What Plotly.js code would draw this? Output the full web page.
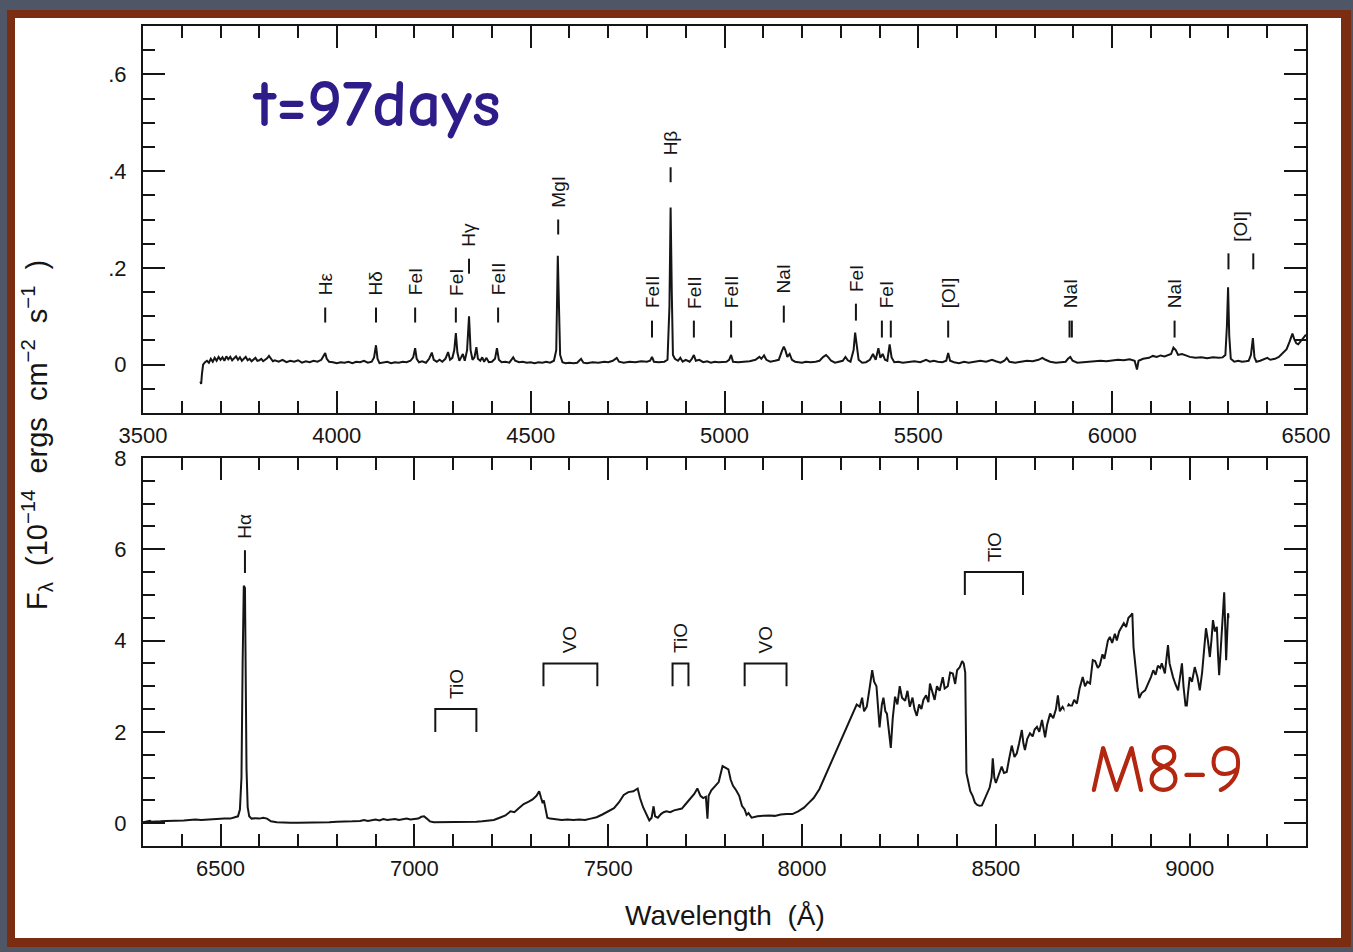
<!DOCTYPE html>
<html>
<head>
<meta charset="utf-8">
<script src="https://cdn.plot.ly/plotly-3.0.1.min.js"></script>
<style>
html,body{margin:0;padding:0;background:#4f5666;}
#chart{width:1353px;height:952px;}
</style>
</head>
<body>
<div id="chart"></div>
<script>
// ---------- DATA ----------
// Top panel spectrum (t = 97 days, blue part)
const topWave = [3648,3650,3652,3655,3660,3665,3670,3675,3680,3685,3690,3695,3700,3705,3710,3715,3720,3725,3730,3735,3740,3745,3750,3755,3760,3765,3770,3775,3780,3785,3790,3795,3800,3805,3810,3815,3820,3825,3830,3835,3840,3850,3860,3870,3880,3890,3900,3910,3920,3930,3940,3950,3960,3966,3970,3974,3980,3990,4000,4010,4020,4030,4040,4050,4060,4070,4080,4090,4096,4101,4105,4110,4120,4130,4140,4150,4160,4170,4180,4190,4197,4202,4206,4212,4220,4230,4238,4245,4250,4258,4265,4272,4280,4287,4292,4298,4303,4307,4311,4316,4320,4325,4330,4336,4341,4345,4350,4355,4360,4364,4370,4375,4380,4386,4392,4400,4408,4413,4418,4425,4435,4445,4455,4460,4470,4480,4490,4500,4510,4520,4530,4540,4550,4560,4566,4570,4573,4576,4582,4590,4600,4610,4620,4630,4636,4645,4660,4675,4690,4700,4712,4722,4728,4740,4755,4770,4785,4800,4808,4813,4818,4830,4845,4853,4858,4861,4864,4867,4872,4880,4886,4892,4900,4910,4916,4921,4926,4935,4945,4955,4965,4975,4985,4995,5005,5012,5017,5022,5035,5050,5065,5080,5090,5095,5102,5108,5118,5130,5140,5148,5153,5157,5162,5168,5174,5182,5190,5200,5210,5222,5235,5245,5255,5262,5268,5275,5285,5295,5305,5312,5318,5325,5333,5337,5341,5346,5355,5365,5375,5383,5390,5397,5402,5408,5414,5420,5426,5431,5438,5448,5460,5475,5490,5505,5520,5530,5540,5550,5562,5572,5577,5582,5592,5605,5618,5630,5645,5660,5675,5690,5700,5712,5722,5728,5735,5750,5765,5780,5795,5810,5820,5828,5840,5855,5868,5880,5886,5892,5898,5910,5925,5940,5955,5970,5985,6000,6015,6030,6045,6058,6064,6068,6080,6095,6105,6115,6125,6135,6145,6152,6158,6164,6170,6180,6190,6200,6215,6230,6245,6260,6275,6285,6292,6296,6299,6302,6306,6315,6325,6335,6345,6352,6358,6363,6367,6372,6382,6392,6400,6408,6420,6430,6440,6450,6458,6465,6470,6475,6480,6488,6496,6500];
const topFlux = [-0.035,-0.04,-0.02,0.0,0.005,0.008,0.004,0.012,0.006,0.014,0.008,0.016,0.01,0.015,0.008,0.017,0.011,0.016,0.009,0.014,0.017,0.01,0.015,0.008,0.013,0.016,0.009,0.012,0.007,0.011,0.014,0.008,0.009,0.012,0.007,0.01,0.013,0.018,0.011,0.007,0.009,0.006,0.01,0.005,0.008,0.006,0.009,0.004,0.007,0.005,0.008,0.006,0.01,0.018,0.024,0.012,0.006,0.005,0.003,0.005,0.004,0.006,0.003,0.006,0.005,0.008,0.004,0.006,0.015,0.04,0.012,0.003,0.004,0.006,0.003,0.005,0.004,0.006,0.005,0.008,0.015,0.034,0.012,0.005,0.007,0.004,0.012,0.025,0.01,0.006,0.01,0.006,0.012,0.026,0.01,0.014,0.03,0.065,0.025,0.008,0.014,0.022,0.008,0.03,0.1,0.03,0.01,0.015,0.036,0.012,0.008,0.015,0.006,0.014,0.005,0.006,0.012,0.034,0.01,0.005,0.006,0.004,0.015,0.008,0.005,0.006,0.004,0.005,0.003,0.005,0.004,0.006,0.004,0.008,0.03,0.225,0.12,0.02,0.005,0.003,0.004,0.003,0.004,0.012,0.004,0.003,0.005,0.004,0.006,0.005,0.008,0.014,0.006,0.004,0.006,0.005,0.007,0.006,0.008,0.016,0.006,0.005,0.006,0.01,0.12,0.325,0.15,0.02,0.012,0.008,0.014,0.006,0.01,0.006,0.012,0.02,0.008,0.01,0.005,0.007,0.004,0.006,0.005,0.006,0.006,0.01,0.02,0.006,0.005,0.006,0.007,0.01,0.016,0.012,0.019,0.01,0.006,0.008,0.01,0.028,0.037,0.03,0.016,0.022,0.01,0.006,0.005,0.004,0.006,0.005,0.006,0.008,0.016,0.02,0.015,0.008,0.004,0.006,0.008,0.016,0.009,0.006,0.03,0.066,0.04,0.01,0.004,0.005,0.01,0.022,0.01,0.034,0.014,0.022,0.01,0.008,0.042,0.015,0.005,0.006,0.004,0.006,0.007,0.005,0.01,0.006,0.008,0.006,0.005,0.008,0.024,0.008,0.005,0.003,0.006,0.004,0.006,0.008,0.006,0.01,0.007,0.004,0.008,0.014,0.006,0.004,0.006,0.008,0.007,0.01,0.014,0.01,0.006,0.004,0.005,0.006,0.012,0.016,0.008,0.004,0.005,0.006,0.006,0.008,0.007,0.008,0.01,0.009,0.011,0.008,-0.01,0.008,0.012,0.014,0.018,0.016,0.019,0.017,0.02,0.022,0.035,0.03,0.02,0.022,0.019,0.016,0.014,0.015,0.013,0.015,0.014,0.015,0.02,0.08,0.16,0.06,0.012,0.006,0.008,0.006,0.007,0.008,0.02,0.055,0.015,0.006,0.008,0.012,0.014,0.01,0.012,0.016,0.024,0.032,0.048,0.064,0.052,0.044,0.042,0.05,0.058,0.062];

// Bottom panel spectrum (red part)
const botWave = [6300,6310,6318,6322,6330,6345,6360,6375,6390,6405,6420,6435,6450,6465,6480,6495,6510,6525,6535,6545,6550,6554,6557,6560,6563,6565,6567,6570,6574,6580,6590,6600,6610,6620,6630,6645,6660,6680,6700,6720,6740,6760,6780,6800,6820,6840,6860,6870,6880,6890,6900,6910,6920,6930,6940,6950,6960,6970,6980,6990,7000,7010,7018,7025,7032,7040,7050,7060,7080,7100,7120,7140,7160,7175,7190,7205,7220,7235,7248,7258,7270,7282,7295,7305,7315,7322,7327,7331,7334,7338,7343,7350,7365,7380,7395,7410,7425,7440,7455,7470,7485,7500,7515,7528,7540,7552,7565,7576,7582,7590,7598,7606,7612,7617,7621,7628,7636,7643,7650,7660,7670,7680,7690,7700,7710,7722,7730,7738,7745,7752,7756,7759,7766,7775,7785,7795,7802,7810,7816,7822,7830,7838,7845,7852,7857,7862,7870,7885,7900,7915,7930,7945,7960,7975,7990,8005,8018,8030,8045,8058,8071,8084,8097,8110,8123,8134,8141,8149,8155,8160,8167,8175,8181,8186,8192,8200,8206,8210,8215,8219,8224,8229,8234,8240,8246,8252,8258,8266,8272,8278,8285,8290,8296,8302,8308,8313,8320,8326,8330,8336,8342,8348,8355,8363,8368,8376,8382,8389,8395,8400,8407,8413,8417,8421,8424,8428,8434,8440,8446,8452,8458,8464,8470,8477,8484,8489,8492,8496,8500,8507,8515,8521,8528,8534,8541,8548,8554,8560,8567,8571,8575,8581,8588,8595,8600,8606,8612,8619,8623,8627,8632,8640,8648,8655,8660,8665,8672,8680,8688,8695,8702,8709,8716,8724,8730,8736,8743,8750,8756,8763,8768,8775,8780,8789,8794,8800,8807,8812,8818,8824,8830,8836,8842,8848,8852,8855,8859,8862,8866,8870,8876,8885,8893,8900,8906,8912,8918,8924,8928,8932,8936,8940,8944,8948,8952,8957,8963,8970,8975,8980,8984,8988,8991,8995,9000,9006,9013,9020,9026,9032,9038,9042,9047,9052,9056,9060,9065,9070,9073,9076,9080,9083,9087,9089,9092,9094,9097,9099,9100];
const botFlux = [0.02,0.03,0.05,0.03,0.03,0.04,0.05,0.05,0.06,0.06,0.07,0.08,0.07,0.08,0.09,0.09,0.1,0.1,0.12,0.15,0.3,1.0,3.5,5.2,5.15,3.0,1.2,0.35,0.15,0.1,0.11,0.1,0.12,0.1,0.04,0.02,0.01,0.01,0.01,0.01,0.015,0.02,0.02,0.03,0.03,0.04,0.05,0.07,0.05,0.06,0.08,0.06,0.09,0.07,0.08,0.09,0.07,0.08,0.1,0.08,0.09,0.1,0.14,0.15,0.1,0.04,0.02,0.02,0.02,0.03,0.03,0.03,0.03,0.04,0.05,0.07,0.12,0.17,0.26,0.24,0.33,0.42,0.47,0.52,0.6,0.7,0.55,0.44,0.5,0.3,0.12,0.1,0.08,0.07,0.08,0.07,0.08,0.07,0.1,0.13,0.19,0.26,0.33,0.46,0.62,0.68,0.7,0.76,0.55,0.35,0.2,0.06,0.12,0.37,0.15,0.12,0.2,0.24,0.26,0.24,0.28,0.3,0.32,0.42,0.52,0.64,0.76,0.6,0.55,0.58,0.1,0.6,0.72,0.8,0.9,1.25,1.22,1.18,0.95,0.82,0.72,0.6,0.38,0.3,0.18,0.22,0.12,0.15,0.16,0.17,0.16,0.19,0.2,0.2,0.26,0.34,0.45,0.55,0.75,1.0,1.26,1.52,1.78,2.0,2.25,2.5,2.6,2.55,2.75,2.45,2.55,3.0,3.35,3.1,3.0,2.1,2.6,2.75,2.45,2.4,2.0,1.65,2.3,2.77,2.6,3.0,2.75,2.68,2.9,2.55,2.75,2.5,2.35,2.6,2.5,2.7,2.8,2.65,3.06,2.85,2.7,3.0,2.9,3.2,2.95,3.0,3.3,3.28,3.05,3.35,3.42,3.55,3.5,3.3,1.1,0.94,0.7,0.6,0.45,0.4,0.38,0.39,0.5,0.65,0.78,1.0,1.42,1.0,0.88,1.05,1.24,1.1,1.12,1.4,1.7,1.45,1.53,1.75,2.04,1.75,1.6,1.85,1.97,1.9,2.05,2.11,2.0,2.26,2.05,1.88,2.15,2.4,2.3,2.5,2.8,2.45,2.55,2.45,2.6,2.55,2.7,2.62,2.95,3.2,3.0,3.1,3.06,3.57,3.55,3.4,3.46,3.7,3.6,4.0,4.08,3.95,4.15,4.0,4.2,4.3,4.38,4.3,4.5,4.55,4.6,3.86,3.5,3.2,2.95,2.74,2.85,2.91,3.05,3.2,3.35,3.25,3.45,3.4,3.5,3.4,3.28,3.6,3.9,3.5,3.35,3.2,3.05,2.91,3.2,3.5,3.0,2.6,2.43,2.8,3.2,3.1,3.42,3.2,2.91,3.3,3.9,4.27,4.0,3.64,4.0,4.45,4.2,4.3,3.7,3.24,3.8,4.16,4.6,5.06,4.2,3.57,4.2,4.6,4.5];

// Top panel line identifications
const topLabelText = ['Hε','Hδ','FeI','FeI','Hγ','FeII','MgI','FeII','Hβ','FeII','FeII','NaI','FeI','FeI','[OI]','NaI','NaI','[OI]'];
const topLabelWave = [3970,4101,4202,4307,4341,4416,4571,4813,4861,4921,5017,5153,5339,5417,5577,5893,6161,6332];
const topLabelBase = [0.118,0.118,0.118,0.118,0.219,0.118,0.300,0.091,0.408,0.091,0.091,0.122,0.126,0.091,0.091,0.091,0.091,0.230];
const topDashWave = [3970,4101,4202,4307,4341,4416,4571,4813,4861,4921,5017,5153,5339,5406,5429,5577,5890,5896,6161,6300,6364];
const topDashLo   = [0.087,0.087,0.087,0.087,0.188,0.087,0.269,0.056,0.377,0.056,0.056,0.087,0.091,0.056,0.056,0.056,0.056,0.056,0.056,0.197,0.197];
const topDashHi   = [0.118,0.118,0.118,0.118,0.219,0.118,0.300,0.091,0.408,0.091,0.091,0.122,0.126,0.091,0.091,0.091,0.091,0.091,0.091,0.230,0.230];

// Bottom panel identifications
const botLineText = ['Hα'];
const botLineWave = [6563];
const botLineLo = [5.48];
const botLineHi = [5.98];
const bandText  = ['TiO','VO','TiO','VO','TiO'];
const bandStart = [7054,7333,7666,7852,8420];
const bandEnd   = [7160,7472,7707,7960,8570];
const bandTop   = [2.5,3.5,3.5,3.5,5.5];

// Axis tick labels
const topYTickVals = [0,0.2,0.4,0.6];
const topYTickText = ['0','.2','.4','.6'];

// ---------- LAYOUT HELPERS ----------
const W = 1353, H = 952;
const ML = 143, MR = 47, MT = 26, MB = 106;
const PW = W - ML - MR, PH = H - MT - MB;
const px = v => (v - ML) / PW;          // pixel x -> paper x
const py = v => (H - MB - v) / PH;      // pixel y -> paper y

const FONT = 'Liberation Sans, Arial, sans-serif';
const COMIC = "'Comic Sans MS', 'Comic Neue', Lato, sans-serif";
const INK = '#151515';
const LEG = 0.5; // bracket leg length (data units, bottom panel)

const traces = [
  {x: topWave, y: topFlux, xaxis: 'x', yaxis: 'y', type: 'scatter', mode: 'lines',
   line: {color: INK, width: 2}, hoverinfo: 'skip'},
  {x: botWave, y: botFlux, xaxis: 'x2', yaxis: 'y2', type: 'scatter', mode: 'lines',
   line: {color: INK, width: 2}, hoverinfo: 'skip'}
];

const shapes = [
  {type: 'rect', xref: 'paper', yref: 'paper', x0: px(7), x1: px(1351), y0: py(947), y1: py(10),
   fillcolor: '#7b2d12', line: {width: 0}, layer: 'below'},
  {type: 'rect', xref: 'paper', yref: 'paper', x0: px(15), x1: px(1341), y0: py(938), y1: py(18),
   fillcolor: '#ffffff', line: {width: 0}, layer: 'below'}
];
const annotations = [];

topDashWave.forEach((w, i) => {
  shapes.push({type: 'line', xref: 'x', yref: 'y', x0: w, x1: w, y0: topDashLo[i], y1: topDashHi[i],
    line: {color: INK, width: 2}});
});
topLabelText.forEach((t, i) => {
  annotations.push({xref: 'x', yref: 'y', x: topLabelWave[i], y: topLabelBase[i], text: t,
    textangle: -90, showarrow: false, xanchor: 'center', yanchor: 'bottom', yshift: 10,
    font: {family: FONT, size: 19, color: INK}});
});
botLineText.forEach((t, i) => {
  shapes.push({type: 'line', xref: 'x2', yref: 'y2', x0: botLineWave[i], x1: botLineWave[i],
    y0: botLineLo[i], y1: botLineHi[i], line: {color: INK, width: 2}});
  annotations.push({xref: 'x2', yref: 'y2', x: botLineWave[i], y: botLineHi[i], text: t,
    textangle: -90, showarrow: false, xanchor: 'center', yanchor: 'bottom', yshift: 10,
    font: {family: FONT, size: 19, color: INK}});
});
bandText.forEach((t, i) => {
  const a = bandStart[i], b = bandEnd[i], top = bandTop[i];
  shapes.push({type: 'path', xref: 'x2', yref: 'y2',
    path: `M ${a},${top - LEG} L ${a},${top} L ${b},${top} L ${b},${top - LEG}`,
    line: {color: INK, width: 2}});
  annotations.push({xref: 'x2', yref: 'y2', x: (a + b) / 2, y: top, text: t,
    textangle: -90, showarrow: false, xanchor: 'center', yanchor: 'bottom', yshift: 8,
    font: {family: FONT, size: 19, color: INK}});
});

annotations.push(
  {xref: 'paper', yref: 'paper', x: px(250), y: py(105), xanchor: 'left', yanchor: 'middle',
   text: '<b>t=97days</b>', showarrow: false,
   font: {family: COMIC, size: 67, color: '#2e1c88'}},
  {xref: 'paper', yref: 'paper', x: px(1166), y: py(770), xanchor: 'center', yanchor: 'middle',
   text: 'M8-9', showarrow: false, bgcolor: '#ffffff', borderpad: 24,
   font: {family: COMIC, size: 68, color: '#b3260f'}},
  {xref: 'paper', yref: 'paper', x: px(37), y: py(435), xanchor: 'center', yanchor: 'middle',
   textangle: -90, showarrow: false,
   text: 'F<sub>λ</sub>  (10<sup>−14</sup>  ergs  cm<sup>−2</sup>  s<sup>−1</sup>  )',
   font: {family: FONT, size: 29, color: INK}},
  {xref: 'paper', yref: 'paper', x: px(725), y: py(915), xanchor: 'center', yanchor: 'middle',
   text: 'Wavelength  (Å)', showarrow: false,
   font: {family: FONT, size: 28, color: INK}}
);

const axCommon = {
  showline: true, linecolor: INK, linewidth: 2, mirror: 'allticks',
  ticks: 'inside', ticklen: 22, tickwidth: 2, tickcolor: INK,
  showgrid: false, zeroline: false, fixedrange: true,
  tickfont: {family: FONT, size: 22, color: INK}
};

const layout = {
  width: W, height: H,
  margin: {l: ML, r: MR, t: MT, b: MB},
  paper_bgcolor: '#4f5666', plot_bgcolor: '#ffffff',
  showlegend: false,
  xaxis: Object.assign({}, axCommon, {anchor: 'y', range: [3500, 6500], tickvals: [3500,4000,4500,5000,5500,6000,6500],
    minor: {dtick: 100, ticklen: 12, tickwidth: 2, tickcolor: INK, ticks: 'inside'}, ticklabelstandoff: 2}),
  yaxis: Object.assign({}, axCommon, {anchor: 'x', domain: [py(413), 1], range: [-0.1, 0.7],
    tickvals: topYTickVals, ticktext: topYTickText,
    minor: {dtick: 0.05, tick0: 0, ticklen: 12, tickwidth: 2, tickcolor: INK, ticks: 'inside'}, ticklabelstandoff: 10}),
  xaxis2: Object.assign({}, axCommon, {anchor: 'y2', range: [6300, 9300], tickvals: [6500,7000,7500,8000,8500,9000],
    minor: {dtick: 100, tick0: 6300, ticklen: 12, tickwidth: 2, tickcolor: INK, ticks: 'inside'}, ticklabelstandoff: 2}),
  yaxis2: Object.assign({}, axCommon, {anchor: 'x2', domain: [0, py(458)], range: [-0.5, 8],
    tickvals: [0,2,4,6,8],
    minor: {dtick: 0.5, tick0: 0, ticklen: 12, tickwidth: 2, tickcolor: INK, ticks: 'inside'}, ticklabelstandoff: 10}),
  shapes: shapes,
  annotations: annotations
};

Plotly.newPlot('chart', traces, layout, {displayModeBar: false, staticPlot: true});
</script>
</body>
</html>
